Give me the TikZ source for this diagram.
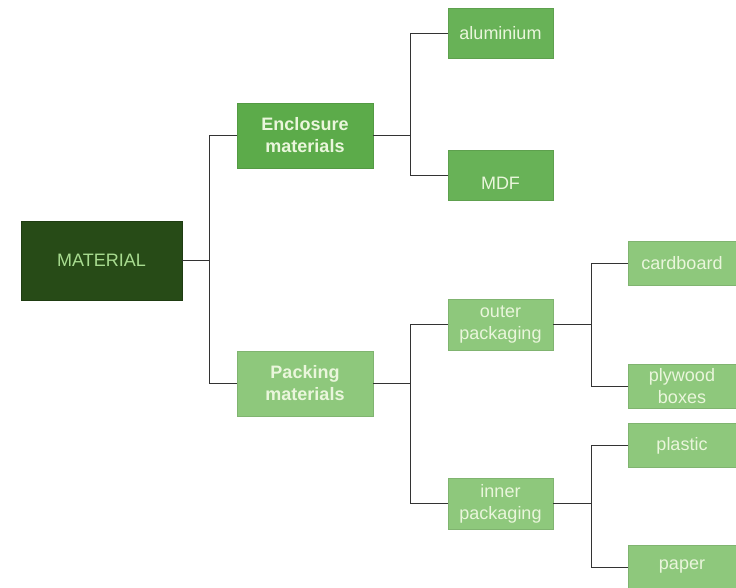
\documentclass[tikz,border=0pt]{standalone}
\usepackage{fontspec}
\setmainfont{Liberation Sans}
\usepackage{xcolor}
\definecolor{rootgreen}{HTML}{274B17}
\definecolor{roottext}{HTML}{A8DC90}
\definecolor{midgreen}{HTML}{5CAB4A}
\definecolor{leafgreen}{HTML}{68B257}
\definecolor{palegreen}{HTML}{8EC87C}
\definecolor{boxtext}{HTML}{EAF6DC}
\usetikzlibrary{positioning}
\tikzstyle{rootbox}=[rectangle, minimum width=120.75pt, minimum height=59.25pt, text centered, draw=rootgreen!80!black, fill=rootgreen, text=roottext]
\tikzstyle{groupbox}=[rectangle, minimum width=102pt, minimum height=48.75pt, text centered, align=center, draw=midgreen!90!black, fill=midgreen, text=boxtext, font=\fontsize{13.5}{16.5}\selectfont\bfseries]
\tikzstyle{itembox}=[rectangle, minimum width=78.75pt, minimum height=37.5pt, text centered, align=center, draw=palegreen!90!black, fill=palegreen, text=boxtext]
\tikzstyle{leafbox}=[rectangle, minimum width=81pt, minimum height=33pt, text centered, align=center, draw=palegreen!90!black, fill=palegreen, text=boxtext]
\tikzstyle{link}=[thin, draw=black!80]

\begin{document}
\begin{tikzpicture}[x=0.75pt, y=-0.75pt, font=\fontsize{13.5}{16.5}\selectfont]
	\useasboundingbox (0,0) rectangle (736,588);

		% root and first level
		\node[rootbox] (material) at (101.5,260.5) {MATERIAL};
		\node[groupbox] (enclosure) at (305,135.5) {Enclosure\\materials};
		\node[groupbox, fill=palegreen, draw=palegreen!90!black] (packing) at (305,383.5) {Packing\\materials};

		% second level
		\node[itembox, fill=leafgreen, draw=leafgreen!90!black] (alu) at (500.5,33) {aluminium};
		\node[itembox, fill=leafgreen, draw=leafgreen!90!black] (mdf) at (500.5,175) {\raisebox{-11pt}[0pt][0pt]{MDF}};
		\node[itembox, minimum height=38.25pt] (outer) at (500.5,324.5) {outer\\packaging};
		\node[itembox, minimum height=38.25pt] (inner) at (500.5,503.5) {inner\\packaging};

		% third level
		\node[leafbox] (cardboard) at (682,263.5) {cardboard};
		\node[leafbox] (plywood) at (682,386) {plywood\\boxes};
		\node[leafbox] (plastic) at (682,445.5) {plastic};
		\node[leafbox] (paper) at (682,567) {paper};

		% connectors
		\draw[link] (material.east) -- ++(27,0) |- (enclosure.west);
		\draw[link] (material.east) -- ++(27,0) |- (packing.west);
		\draw[link] (enclosure.east) -- ++(37,0) |- (alu.west);
		\draw[link] (enclosure.east) -- ++(37,0) |- (mdf.west);
		\draw[link] (packing.east) -- ++(37,0) |- (outer.west);
		\draw[link] (packing.east) -- ++(37,0) |- (inner.west);
		\draw[link] (outer.east) -- ++(38,0) |- (cardboard.west);
		\draw[link] (outer.east) -- ++(38,0) |- (plywood.west);
		\draw[link] (inner.east) -- ++(38,0) |- (plastic.west);
		\draw[link] (inner.east) -- ++(38,0) |- (paper.west);
\end{tikzpicture}
\end{document}
